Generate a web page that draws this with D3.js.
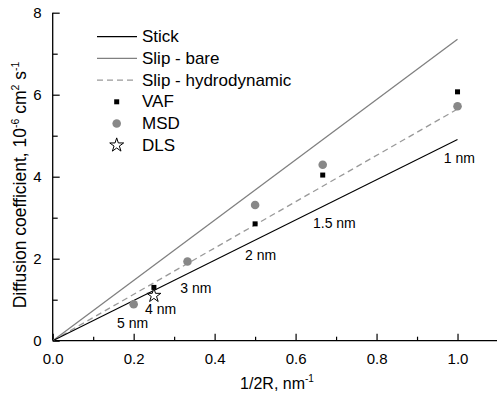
<!DOCTYPE html>
<html><head><meta charset="utf-8">
<script src="https://cdn.jsdelivr.net/npm/d3@7"></script>
<style>body{margin:0;background:#fff}svg{display:block}text{font-family:"Liberation Sans",Arial,sans-serif;fill:#000}</style>
</head><body><svg id="c" width="497" height="394"></svg>
<script>
// Data
const xTicks = [0.0, 0.2, 0.4, 0.6, 0.8, 1.0];
const yTicks = [0, 2, 4, 6, 8];
const stickLine = [[0, 0], [1.0, 4.91]];
const slipBareLine = [[0, 0], [1.0, 7.35]];
const slipHydroLine = [[0, 0], [1.0, 5.65]];
const vafX = [0.25, 0.5, 0.667, 1.0];
const vafY = [1.30, 2.85, 4.04, 6.07];
const msdX = [0.2, 0.333, 0.5, 0.667, 1.0];
const msdY = [0.89, 1.93, 3.31, 4.29, 5.72];
const dlsX = [0.25];
const dlsY = [1.10];
const sizeLabels = ["1 nm", "1.5 nm", "2 nm", "3 nm", "4 nm", "5 nm"];
const sizeLabelX = [0.966, 0.643, 0.475, 0.315, 0.228, 0.159];
const sizeLabelY = [4.46, 2.88, 2.09, 1.29, 0.77, 0.43];

const svg = d3.select("#c");
const x = d3.scaleLinear().domain([0, 1.1]).range([52.7, 498]);
const y = d3.scaleLinear().domain([0, 8]).range([340.7, 12.7]);
const FONT = '"Liberation Sans",Arial,sans-serif';

// axes
const gx = svg.append("g").attr("transform", `translate(0,${y(0)})`);
gx.call(d3.axisBottom(x).tickValues(xTicks).tickFormat(d3.format(".1f")).tickSize(-7).tickPadding(13));
gx.append("g").call(d3.axisBottom(x).tickValues([0.1,0.3,0.5,0.7,0.9]).tickFormat("").tickSize(-4)).select(".domain").remove();
const gy = svg.append("g").attr("transform", `translate(${x(0)},0)`);
gy.call(d3.axisLeft(y).tickValues(yTicks).tickFormat(d3.format("d")).tickSize(-7).tickPadding(11));
gy.append("g").call(d3.axisLeft(y).tickValues([1,3,5,7]).tickFormat("").tickSize(-5)).select(".domain").remove();
svg.selectAll(".domain").attr("stroke", "#000").attr("stroke-width", 1.3);
svg.selectAll(".tick line").attr("stroke", "#000").attr("stroke-width", 1.2);
svg.selectAll(".tick text").attr("font-size", 15).style("font-family", FONT);
gy.selectAll("path.domain").attr("d", `M0,${y(8)}V${y(0)}`);
gx.selectAll("path.domain").attr("d", `M${x(0)},0H${x(1.1)}`);

// lines
const line = d3.line().x(d => x(d[0])).y(d => y(d[1]));
svg.append("path").attr("d", line(slipBareLine)).attr("stroke", "#808080").attr("stroke-width", 1.3).attr("fill", "none");
svg.append("path").attr("d", line(slipHydroLine)).attr("stroke", "#999").attr("stroke-width", 1.3).attr("stroke-dasharray", "6,4").attr("fill", "none");
svg.append("path").attr("d", line(stickLine)).attr("stroke", "#000").attr("stroke-width", 1.1).attr("fill", "none");

// markers
const star = d3.symbol().type(d3.symbolStar).size(60);
svg.selectAll(".msd").data(msdX).join("circle").attr("cx", d => x(d)).attr("cy", (d,i) => y(msdY[i])).attr("r", 4.3).attr("fill", "#888");
svg.selectAll(".vaf").data(vafX).join("rect").attr("x", d => x(d) - 2.5).attr("y", (d,i) => y(vafY[i]) - 2.5).attr("width", 5).attr("height", 5).attr("fill", "#000");
svg.selectAll(".dls").data(dlsX).join("path").attr("d", star).attr("transform", (d,i) => `translate(${x(d)},${y(dlsY[i])})`).attr("fill", "#fff").attr("stroke", "#000").attr("stroke-width", 1);

// size labels
svg.selectAll(".sl").data(sizeLabels).join("text").attr("x", (d,i) => x(sizeLabelX[i])).attr("y", (d,i) => y(sizeLabelY[i])).attr("font-size", 14).attr("dominant-baseline", "central").text(d => d);

// legend
const leg = [
  {t: "Stick", type: "line", c: "#000"},
  {t: "Slip - bare", type: "line", c: "#808080"},
  {t: "Slip - hydrodynamic", type: "dash", c: "#999"},
  {t: "VAF", type: "sq"},
  {t: "MSD", type: "ci"},
  {t: "DLS", type: "st"}
];
const lg = svg.append("g");
leg.forEach((d, i) => {
  const cy = 36.7 + i * 21.7;
  if (d.type === "line" || d.type === "dash") {
    lg.append("line").attr("x1", 97).attr("x2", 137).attr("y1", cy).attr("y2", cy).attr("stroke", d.c).attr("stroke-width", 1.2).attr("stroke-dasharray", d.type === "dash" ? "6,4" : null);
  } else if (d.type === "sq") {
    lg.append("rect").attr("x", 114.2).attr("y", cy - 2.5).attr("width", 5).attr("height", 5).attr("fill", "#000");
  } else if (d.type === "ci") {
    lg.append("circle").attr("cx", 116.7).attr("cy", cy).attr("r", 4.3).attr("fill", "#888");
  } else {
    lg.append("path").attr("d", star).attr("transform", `translate(116.7,${cy})`).attr("fill", "#fff").attr("stroke", "#000");
  }
  lg.append("text").attr("x", 142).attr("y", cy).attr("dominant-baseline", "central").attr("font-size", 17).text(d.t);
});

// axis titles
const xt = svg.append("text").attr("x", 277).attr("y", 389).attr("text-anchor", "middle").attr("font-size", 16);
xt.append("tspan").text("1/2R, nm");
xt.append("tspan").attr("font-size", 10).attr("dy", -7).text("-1");
const yt = svg.append("text").attr("transform", "translate(25.5,185) rotate(-90)").attr("text-anchor", "middle").attr("font-size", 17.5);
yt.append("tspan").text("Diffusion coefficient, 10");
yt.append("tspan").attr("font-size", 10.5).attr("dy", -7).text("-6");
yt.append("tspan").attr("dy", 7).text(" cm");
yt.append("tspan").attr("font-size", 10.5).attr("dy", -7).text("2");
yt.append("tspan").attr("dy", 7).text(" s");
yt.append("tspan").attr("font-size", 10.5).attr("dy", -7).text("-1");
</script></body></html>
